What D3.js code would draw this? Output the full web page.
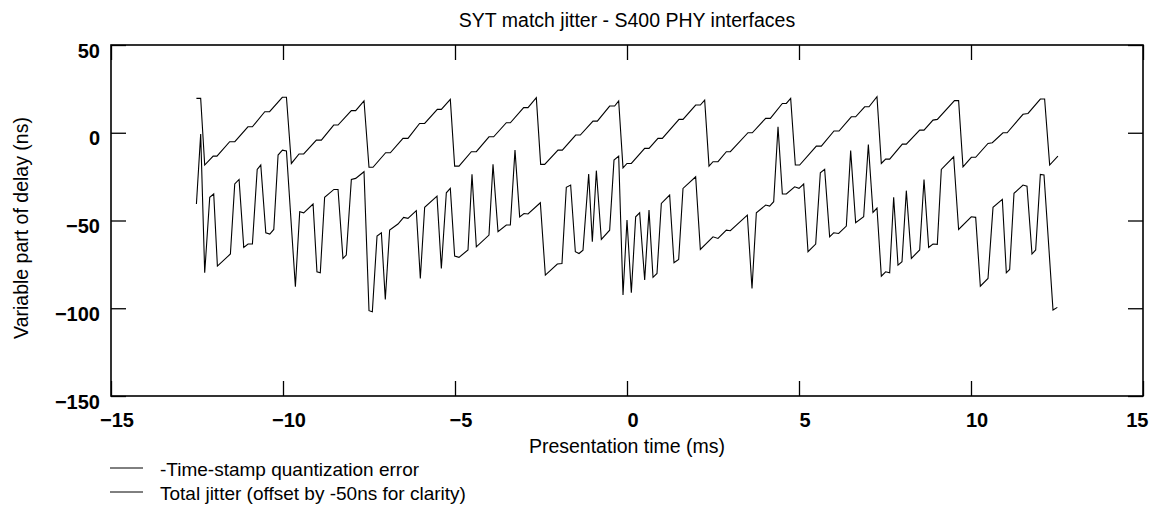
<!DOCTYPE html>
<html>
<head>
<meta charset="utf-8">
<script src="https://cdn.jsdelivr.net/npm/d3@7"></script>
<style>
  html, body { margin: 0; padding: 0; background: #fff; }
  svg { display: block; font-family: "Liberation Sans", Arial, Helvetica, sans-serif; }
</style>
</head>
<body>
<svg id="chart" width="1154" height="509"></svg>
<script>
// ---- data ----
const titleText = "SYT match jitter - S400 PHY interfaces";
const xLabel = "Presentation time (ms)";
const yLabel = "Variable part of delay (ns)";
const seriesNames = ["-Time-stamp quantization error", "Total jitter (offset by -50ns for clarity)"];
const xTicks = [-15, -10, -5, 0, 5, 10, 15];
const yTicks = [-150, -100, -50, 0, 50];

// Series 1: -time-stamp quantization error (ms, ns)
const sawX = [-12.517, -12.393, -12.276, -12.03, -11.92, -11.55, -11.40, -11.02, -10.89, -10.53, -10.39, -10.02, -9.90,
  -9.757, -9.534, -9.398, -9.03, -8.885, -8.526, -8.40, -8.013, -7.887, -7.645,
  -7.50, -7.384, -7.016, -6.88, -6.512, -6.367, -6.03, -5.882, -5.514, -5.397, -5.136,
  -5.01, -4.884, -4.525, -4.38, -4.012, -3.876, -3.508, -3.391, -3.004, -2.878, -2.636,
  -2.51, -2.393, -2.006, -1.88, -1.492, -1.357, -0.988, -0.862, -0.504, -0.359, -0.242,
  -0.116, 0.0, 0.126, 0.514, 0.64, 0.90, 1.027, 1.512, 1.628, 1.996, 2.132, 2.258,
  2.384, 2.5, 2.645, 2.888, 3.004, 3.517, 3.643, 4.031, 4.167, 4.516, 4.632, 4.758,
  4.893, 5.019, 5.504, 5.649, 6.017, 6.163, 6.521, 6.647, 6.909, 7.035, 7.267,
  7.393, 7.519, 7.636, 8.004, 8.12, 8.508, 8.634, 8.895, 9.021, 9.52, 9.64,
  9.767, 10.01, 10.136, 10.494, 10.62, 10.93, 11.05, 11.512, 11.657, 12.016, 12.14,
  12.287, 12.527];
const sawY = [19.6, 19.6, -18.4, -13.3, -13.3, -5.1, -5.1, 3.4, 3.4, 12, 12, 20.2, 20.2,
  -17.5, -12.1, -12.1, -4.2, -4.2, 4.4, 4.4, 12.6, 12.6, 18.2,
  -19.7, -19.7, -11.4, -11.4, -3.2, -3.2, 5.3, 5.3, 13.3, 13.3, 19.0,
  -19.0, -19.0, -10.8, -10.8, -2.3, -2.3, 5.7, 5.7, 14.3, 14.3, 20.0,
  -18.0, -18.0, -9.9, -9.9, -1.3, -1.3, 6.6, 6.6, 15.2, 15.2, 18.1,
  -20.0, -17.5, -17.5, -8.9, -8.9, -3.2, -3.2, 7.6, 7.6, 15.8, 15.8, 18.6,
  -19.0, -16.5, -16.5, -10.8, -10.8, 0.0, 0.0, 8.2, 8.2, 16.7, 16.7, 19.6,
  -18.4, -18.4, -7.6, -7.6, 1.0, 1.0, 9.1, 9.1, 14.8, 14.8, 20.5,
  -17.5, -15.0, -15.0, -6.5, -6.5, 1.5, 1.5, 7.2, 7.6, 18.3, 18.3,
  -19.4, -14.0, -14.0, -6.1, -5.7, 0.0, 0.0, 10.5, 11.0, 19.2, 19.2,
  -18.4, -13.3];

// Series 2: total jitter, offset by -50 ns (ms, ns)
const jitX = [-12.517, -12.393, -12.276, -12.13, -12.014, -11.907, -11.529, -11.403, -11.277, -11.141, -11.015, -10.889,
  -10.75, -10.646, -10.5, -10.384, -10.268, -10.143, -10.017, -9.9, -9.64, -9.514, -9.398, -9.126,
  -9.013, -8.916, -8.79, -8.52, -8.4, -8.257, -8.16, -8.013, -7.887, -7.645, -7.50, -7.403,
  -7.267, -7.14, -7.026, -6.9, -6.658, -6.493, -6.367, -6.125, -6.008, -5.882, -5.523, -5.397,
  -5.252, -5.136, -5.01, -4.884, -4.622, -4.506, -4.38, -4.012, -3.895, -3.75, -3.508, -3.391,
  -3.256, -3.12, -2.994, -2.878, -2.519, -2.374, -2.025, -1.89, -1.764, -1.638, -1.502, -1.395,
  -1.279, -1.114, -1.008, -0.891, -0.746, -0.504, -0.378, -0.242, -0.116, 0.0, 0.126, 0.252,
  0.368, 0.514, 0.64, 0.756, 0.872, 0.998, 1.24, 1.366, 1.502, 1.628, 1.996, 2.132,
  2.5, 2.645, 2.888, 3.004, 3.498, 3.634, 3.76, 4.031, 4.147, 4.264, 4.39, 4.516,
  4.632, 4.874, 5.0, 5.136, 5.262, 5.485, 5.62, 5.746, 5.891, 6.008, 6.153, 6.376,
  6.502, 6.647, 6.88, 7.016, 7.151, 7.267, 7.393, 7.519, 7.636, 7.752, 7.878, 7.994,
  8.12, 8.266, 8.508, 8.634, 8.769, 8.895, 9.021, 9.137, 9.496, 9.64, 10.008, 10.136,
  10.271, 10.494, 10.64, 10.911, 11.027, 11.124, 11.25, 11.512, 11.628, 11.773, 11.88, 12.016,
  12.122, 12.384, 12.51];
const jitY = [-40.6, -0.7, -79.8, -36.8, -34.9, -76.0, -69.1, -29.2, -26.6, -65.3, -63.4, -63.4,
  -20.9, -18.4, -57.0, -57.7, -55.1, -12.7, -9.9, -10.4, -87.7, -45.0, -45.6, -40.6,
  -79.2, -79.8, -36.8, -32.3, -32.3, -71.6, -69.7, -26.6, -26.0, -22.2, -101.4, -102.0,
  -58.9, -57.0, -95.0, -55.4, -52.0, -48.2, -48.8, -44.4, -83.0, -42.5, -36.1, -77.3,
  -34.2, -31.7, -70.3, -71.0, -66.8, -23.7, -65.0, -58.3, -18.0, -56.4, -52.6, -52.6,
  -9.9, -47.9, -46.0, -46.3, -39.9, -81.1, -74.8, -74.5, -31.1, -29.8, -67.8, -68.8,
  -66.9, -23.5, -62.1, -21.6, -60.8, -55.5, -15.6, -13.3, -92.5, -49.7, -91.2, -47.9,
  -45.6, -83.9, -44.1, -82.4, -80.2, -40.3, -35.5, -74.1, -72.2, -31.7, -25.1, -66.5,
  -59.3, -60.2, -55.5, -55.8, -46.9, -88.7, -45.6, -41.2, -41.8, -39.3, 3.4, -34.9,
  -34.9, -30.8, -31.7, -29.2, -67.8, -63.4, -22.8, -20.9, -59.3, -57.0, -57.4, -53.2,
  -10.2, -51.3, -47.9, -6.7, -45.4, -42.9, -81.7, -79.2, -79.8, -36.8, -75.4, -73.5,
  -33.0, -71.6, -66.8, -26.6, -65.3, -63.4, -63.6, -20.9, -13.7, -55.1, -47.9, -48.2,
  -87.4, -83.0, -42.5, -38.0, -79.8, -77.9, -34.5, -29.8, -30.4, -69.1, -66.8, -23.7,
  -24.1, -101.0, -99.5];

// ---- layout ----
const svg = d3.select("#chart");
const mLeft = 111, mRight = 1143, mTop = 45, mBottom = 396;
const x = d3.scaleLinear().domain([-15, 15]).range([mLeft, mRight]);
const y = d3.scaleLinear().domain([-150, 50]).range([mBottom, mTop]);

const fmt = d => (d < 0 ? "\u2212" + Math.abs(d) : String(d));

// bottom axis (ticks inward)
const gB = svg.append("g").attr("transform", `translate(0,${mBottom})`)
  .call(d3.axisBottom(x).tickValues(xTicks).tickSize(-15).tickPadding(17).tickFormat(fmt));
gB.selectAll("text").attr("dx", 5.5);
// keep the last label inside the picture, as in the reference
gB.selectAll(".tick").filter(d => d === xTicks[xTicks.length - 1]).select("text")
  .attr("text-anchor", "end").attr("dx", 5);
// top axis
const gT = svg.append("g").attr("transform", `translate(0,${mTop})`)
  .call(d3.axisTop(x).tickValues(xTicks).tickSize(-15).tickFormat(""));
// left axis
const gL = svg.append("g").attr("transform", `translate(${mLeft},0)`)
  .call(d3.axisLeft(y).tickValues(yTicks).tickSize(-15).tickPadding(11).tickFormat(fmt));
gL.selectAll("text").attr("dy", "0.6em");
// right axis
const gR = svg.append("g").attr("transform", `translate(${mRight},0)`)
  .call(d3.axisRight(y).tickValues(yTicks).tickSize(-15).tickFormat(""));

[gB, gT, gL, gR].forEach(g => {
  g.select(".domain").remove();
  g.selectAll(".tick line").attr("stroke", "#000").attr("stroke-width", 1.3);
  g.selectAll("text").attr("fill", "#000").attr("font-size", 20).attr("font-weight", "bold")
    .attr("font-family", "'Liberation Sans', Arial, Helvetica, sans-serif");
});

// frame
svg.append("rect").attr("x", mLeft).attr("y", mTop)
  .attr("width", mRight - mLeft).attr("height", mBottom - mTop)
  .attr("fill", "none").attr("stroke", "#000").attr("stroke-width", 1.6);

// series lines
const sawData = sawX.map((v, i) => [v, sawY[i]]);
const jitData = jitX.map((v, i) => [v, jitY[i]]);
const line = d3.line().x(d => x(d[0])).y(d => y(d[1]));
svg.append("path").datum(sawData).attr("d", line)
  .attr("fill", "none").attr("stroke", "#000").attr("stroke-width", 1.1);
svg.append("path").datum(jitData).attr("d", line)
  .attr("fill", "none").attr("stroke", "#000").attr("stroke-width", 1.1);

// title and axis labels
svg.append("text").attr("x", (mLeft + mRight) / 2).attr("y", 27)
  .attr("text-anchor", "middle").attr("font-size", 19.5).text(titleText);
svg.append("text").attr("x", (mLeft + mRight) / 2).attr("y", 453)
  .attr("text-anchor", "middle").attr("font-size", 19.5).text(xLabel);
svg.append("text").attr("transform", "translate(28,228) rotate(-90)")
  .attr("text-anchor", "middle").attr("font-size", 19.5).text(yLabel);

// legend
const legY = [468, 492];
seriesNames.forEach((name, i) => {
  svg.append("line").attr("x1", 110).attr("x2", 143).attr("y1", legY[i]).attr("y2", legY[i])
    .attr("stroke", "#000").attr("stroke-width", 1);
  svg.append("text").attr("x", 160).attr("y", legY[i] + 8).attr("font-size", 19)
    .text(name);
});
</script>
</body>
</html>
